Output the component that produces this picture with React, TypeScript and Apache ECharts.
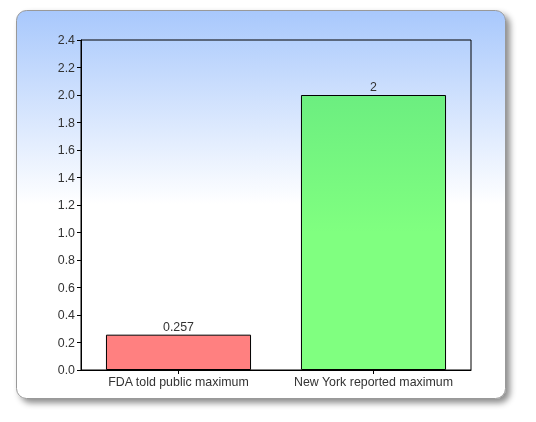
import React, { useEffect, useRef } from "react";
import * as echarts from "echarts";

const categories = ["FDA told public maximum", "New York reported maximum"];
const values = [0.257, 2];
const barColors = ["#ff8080", "#80ff80"];
const barTopColors = ["#ff8080", "#6cee80"];

export default function App() {
  const ref = useRef<HTMLDivElement>(null);
  useEffect(() => {
    if (!ref.current) return;
    const chart = echarts.init(ref.current, undefined, { renderer: "svg" });
    chart.setOption({
      animation: false,
      textStyle: { fontFamily: "Liberation Sans, Arial, sans-serif" },
      graphic: [
        {
          type: "rect",
          z: -10,
          silent: true,
          shape: { x: 16.5, y: 10.5, width: 489, height: 388, r: 10 },
          style: {
            fill: new echarts.graphic.LinearGradient(0, 0, 0, 1, [
              { offset: 0, color: "#a8c8fc" },
              { offset: 0.5, color: "#ffffff" },
              { offset: 1, color: "#ffffff" },
            ]),
            stroke: "#999999",
            lineWidth: 1,
            shadowBlur: 6,
            shadowOffsetX: 4,
            shadowOffsetY: 4,
            shadowColor: "rgba(0,0,0,0.45)",
          },
        },
      ],
      grid: {
        left: 81,
        right: 65,
        top: 40,
        bottom: 52,
        show: true,
        borderColor: "#000",
        borderWidth: 1,
        backgroundColor: "transparent",
      },
      xAxis: {
        type: "category",
        data: categories,
        axisLine: { lineStyle: { color: "#000" } },
        axisTick: { show: true, alignWithLabel: true, interval: 0, length: 4, lineStyle: { color: "#000", width: 1 } },
        axisLabel: { color: "#333", fontSize: 12.4, margin: 6, interval: 0, hideOverlap: false },
      },
      yAxis: {
        type: "value",
        min: 0,
        max: 2.4,
        interval: 0.2,
        splitLine: { show: false },
        axisLine: { show: true, lineStyle: { color: "#000" } },
        axisTick: { show: true, length: 4, lineStyle: { color: "#000" } },
        axisLabel: {
          color: "#333",
          fontSize: 12.4,
          margin: 6,
          formatter: (v: number) => v.toFixed(1),
        },
      },
      series: [
        {
          type: "bar",
          barCategoryGap: "25.6%",
          data: values.map((v, i) => ({
            value: v,
            itemStyle: {
              color: new echarts.graphic.LinearGradient(0, 0, 0, 1, [
                { offset: 0, color: barTopColors[i] },
                { offset: 0.5, color: barColors[i] },
                { offset: 1, color: barColors[i] },
              ]),
              borderColor: "#000",
              borderWidth: 1,
            },
          })),
          label: {
            show: true,
            position: "top",
            distance: 2,
            color: "#333",
            fontSize: 12.4,
            formatter: (p: any) => String(p.value),
          },
        },
      ],
    });
    return () => chart.dispose();
  }, []);
  return (
    <div
      ref={ref}
      style={{ position: "fixed", left: 0, top: 0, width: 536, height: 422 }}
    />
  );
}
